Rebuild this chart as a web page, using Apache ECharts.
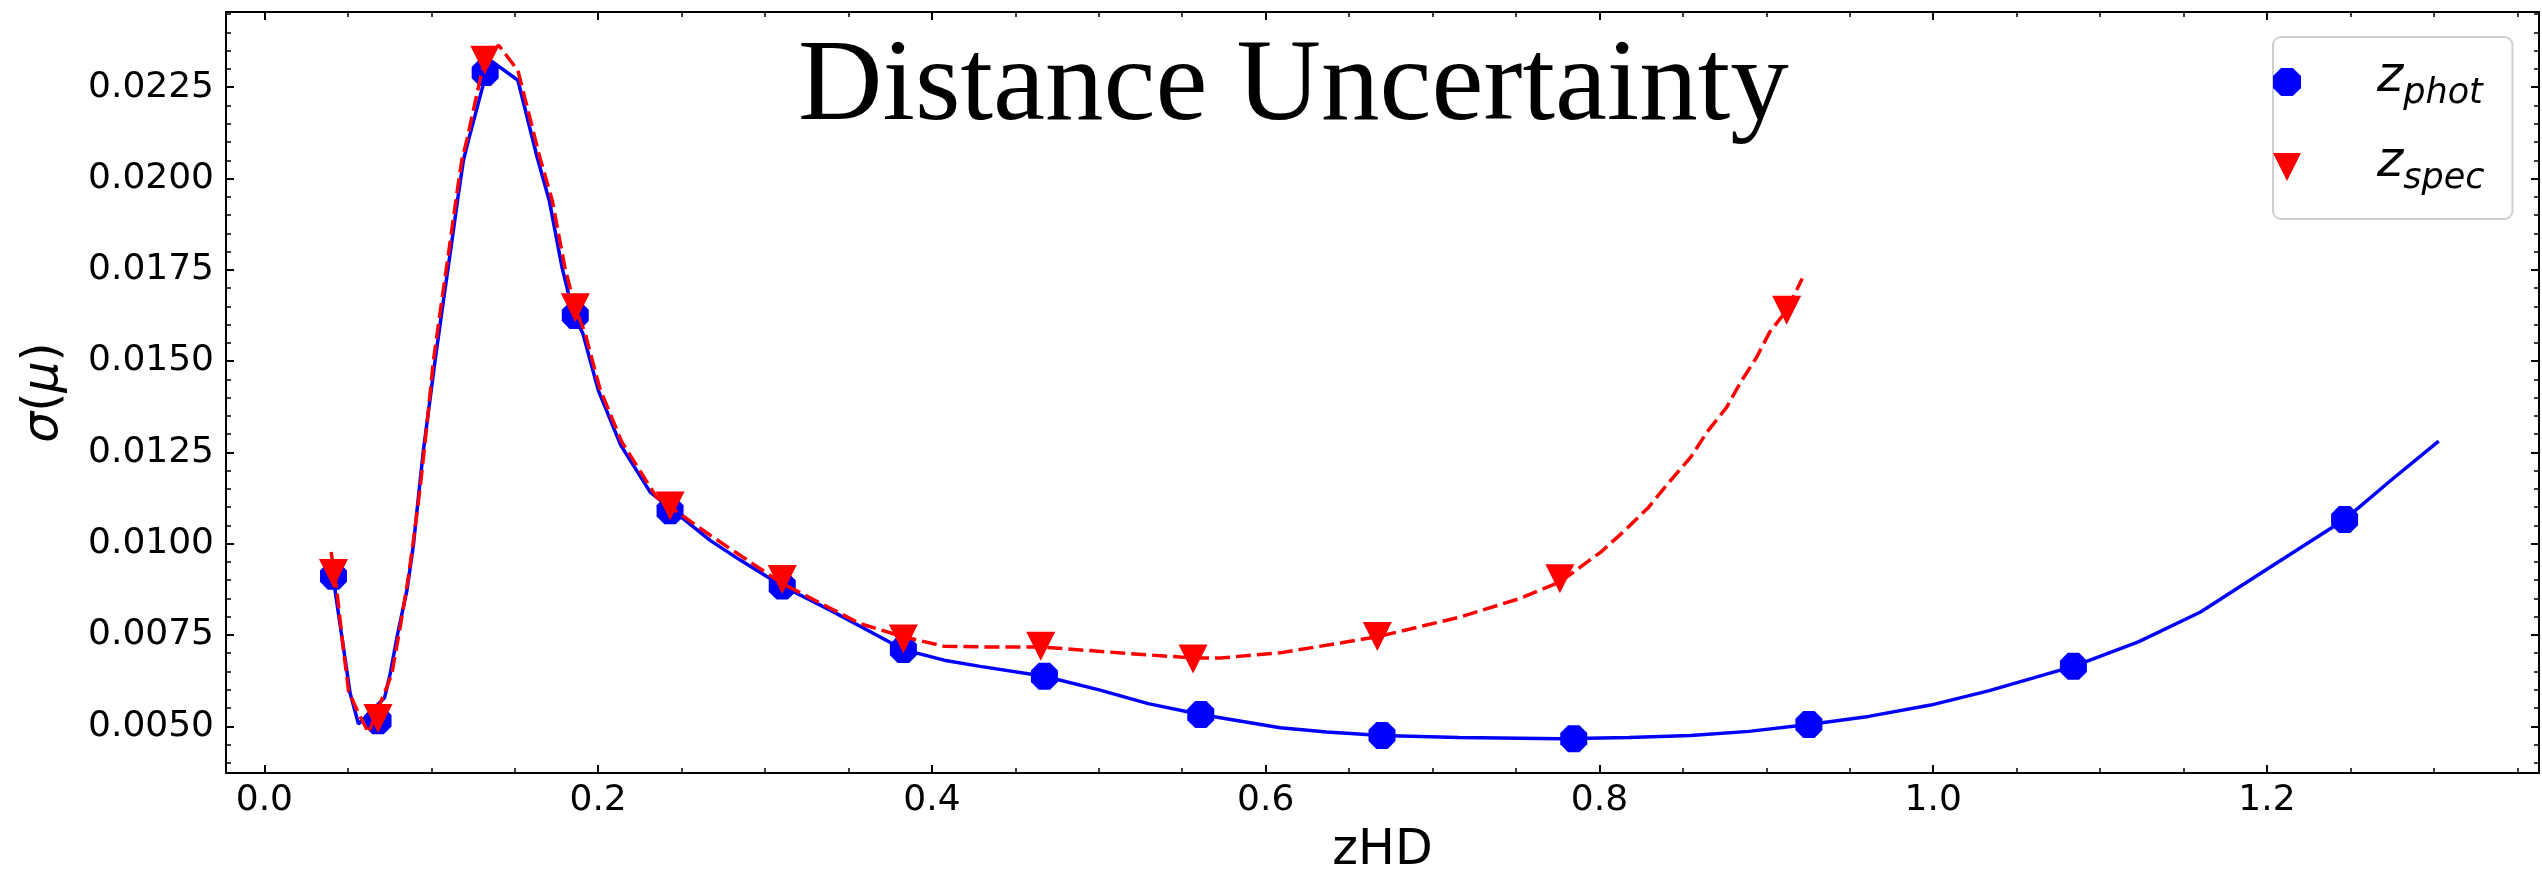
<!DOCTYPE html>
<html><head><meta charset="utf-8">
<script src="https://cdn.jsdelivr.net/npm/echarts@6/dist/echarts.min.js"></script>
<style>html,body{margin:0;padding:0;background:#fff}#c{width:2542px;height:875px}</style>
</head><body><div id="c"></div>
<script>
// ---- data ----
const zphotX = [0.0414,0.0681,0.1323,0.1863,0.2431,0.3103,0.3829,0.4674,0.5611,0.6697,0.7846,0.9255,1.0840,1.2465];
const zphotY = [0.00911,0.00515,0.02290,0.01625,0.01090,0.00884,0.00710,0.00637,0.00532,0.00475,0.00466,0.00505,0.00664,0.01066];
const zspecX = [0.0414,0.0681,0.1321,0.1863,0.2431,0.3103,0.3829,0.4652,0.5565,0.6669,0.7763,0.9122];
const zspecY = [0.00918,0.00521,0.02324,0.01646,0.01103,0.00902,0.00739,0.00719,0.00684,0.00746,0.00904,0.01639];
const photCurveX = [0.0405,0.0514,0.0564,0.0720,0.0754,0.0799,0.0854,0.0894,0.0923,0.0953,0.1023,0.1073,0.1113,0.1163,0.1193,0.1223,0.1324,0.1363,0.1519,0.1634,0.1707,0.1783,0.1851,0.1909,0.2001,0.2135,0.2312,0.2671,0.2851,0.3103,0.3390,0.3606,0.3829,0.4073,0.4289,0.4674,0.5008,0.5296,0.5611,0.6087,0.6366,0.6697,0.7156,0.7768,0.8178,0.8547,0.8895,0.9255,0.9613,0.9985,1.0331,1.0840,1.1229,1.1602,1.1946,1.2465,1.2736,1.3029];
const photCurveY = [0.00930,0.00590,0.00506,0.00578,0.00644,0.00754,0.00872,0.01000,0.01128,0.01256,0.01502,0.01666,0.01794,0.01958,0.02050,0.02105,0.02279,0.02321,0.02269,0.02059,0.01940,0.01758,0.01630,0.01575,0.01420,0.01270,0.01141,0.01009,0.00955,0.00884,0.00818,0.00765,0.00710,0.00681,0.00664,0.00637,0.00599,0.00562,0.00532,0.00496,0.00484,0.00475,0.00469,0.00466,0.00469,0.00475,0.00486,0.00505,0.00527,0.00558,0.00597,0.00664,0.00731,0.00813,0.00914,0.01066,0.01171,0.01281];
const specCurveX = [0.0400,0.0434,0.0474,0.0505,0.0565,0.0624,0.0734,0.0764,0.0814,0.0863,0.0893,0.0934,0.0975,0.1013,0.1063,0.1103,0.1153,0.1183,0.1213,0.1321,0.1404,0.1519,0.1650,0.1725,0.1800,0.1865,0.1920,0.2010,0.2140,0.2349,0.2671,0.3103,0.3570,0.3829,0.4073,0.4361,0.4652,0.5188,0.5565,0.5727,0.6087,0.6669,0.7164,0.7524,0.7763,0.8008,0.8142,0.8295,0.8411,0.8547,0.8645,0.8763,0.8842,0.8942,0.9021,0.9122,0.9215];
const specCurveY = [0.00977,0.00872,0.00708,0.00595,0.00535,0.00482,0.00608,0.00644,0.00772,0.00909,0.01009,0.01155,0.01330,0.01502,0.01666,0.01794,0.01958,0.02050,0.02105,0.02330,0.02365,0.02296,0.02059,0.01940,0.01758,0.01640,0.01580,0.01425,0.01280,0.01128,0.01023,0.00891,0.00781,0.00745,0.00719,0.00717,0.00717,0.00699,0.00687,0.00687,0.00701,0.00745,0.00799,0.00850,0.00895,0.00977,0.01032,0.01100,0.01165,0.01237,0.01306,0.01374,0.01439,0.01511,0.01580,0.01639,0.01726];
const xMajorTicks = [0.0,0.2,0.4,0.6,0.8,1.0,1.2];
const xMinorTicks = [0.05,0.1,0.15,0.25,0.3,0.35,0.45,0.5,0.55,0.65,0.7,0.75,0.85,0.9,0.95,1.05,1.1,1.15,1.25,1.3,1.35];
const yMajorTicks = [0.0050,0.0075,0.0100,0.0125,0.0150,0.0175,0.0200,0.0225];
const yMinorTicks = [0.0040,0.0045,0.0055,0.0060,0.0065,0.0070,0.0080,0.0085,0.0090,0.0095,0.0105,0.0110,0.0115,0.0120,0.0130,0.0135,0.0140,0.0145,0.0155,0.0160,0.0165,0.0170,0.0180,0.0185,0.0190,0.0195,0.0205,0.0210,0.0215,0.0220,0.0230,0.0235,0.0240,0.0245];
const X_MIN = -0.023, X_MAX = 1.363, Y_MIN = 0.00372, Y_MAX = 0.02456;

// ---- chart ----
const FONT = 'DejaVu Sans';
const OCT = 'path://M29 0L71 0L100 29L100 71L71 100L29 100L0 71L0 29Z';
const TRI_DOWN = 'path://M0 0L100 0L50 100Z';
const GRIDBOX = {left:226, top:12, width:2313, height:761, containLabel:false, outerBoundsMode:'none'};
function pairs(xs, ys){ return xs.map((x,i)=>[x, ys[i]]); }
function tickAxis(kind, gridIndex, position, ticks, major, labelFmt, extra){
  const a = {
    gridIndex, type:'value', position,
    min: kind==='x'?X_MIN:Y_MIN, max: kind==='x'?X_MAX:Y_MAX,
    axisLine:{show: major, onZero:false, lineStyle:{color:'#000', width:2}},
    axisTick:{show:true, inside:true, length: major?8:5, customValues: ticks,
      lineStyle:{color:'#000', width: major?2:1.5}},
    axisLabel:{show:false},
    splitLine:{show:false}, minorTick:{show:false}
  };
  if (labelFmt) {
    a.axisLabel = {show:true, customValues: ticks, formatter: labelFmt,
      fontFamily: FONT, fontSize:36, color:'#000', margin: kind==='x'?10:12};
  }
  return Object.assign(a, extra||{});
}
const chart = echarts.init(document.getElementById('c'), null, {renderer:'canvas'});
chart.setOption({
  animation:false,
  backgroundColor:'#ffffff',
  title:{text:'Distance Uncertainty', left:798, top:30, padding:0,
    textStyle:{fontFamily:'Liberation Serif', fontSize:117, fontWeight:'normal', color:'#000'}},
  grid:[Object.assign({}, GRIDBOX), Object.assign({}, GRIDBOX)],
  legend:{
    data:[{name:'zphot', icon:OCT}, {name:'zspec', icon:TRI_DOWN}],
    left:2273, top:37, orient:'vertical', selectedMode:false,
    backgroundColor:'#fff', borderColor:'#cfcfcf', borderWidth:2, borderRadius:8,
    padding:[16,28,23,0], itemGap:27, itemWidth:144, itemHeight:28,
    formatter: n => n==='zphot' ? '{z|z}{s|phot}' : '{z|z}{s|spec}',
    textStyle:{color:'#000', padding:[8,0,0,0],
      rich:{
        z:{fontFamily:FONT, fontStyle:'italic', fontSize:50, lineHeight:50, padding:[0,0,8,13], verticalAlign:'bottom', color:'#000'},
        s:{fontFamily:FONT, fontStyle:'italic', fontSize:35, lineHeight:35, verticalAlign:'bottom', color:'#000'}
      }}
  },
  xAxis:[
    tickAxis('x',0,'bottom',xMajorTicks,true, v=>Number(v).toFixed(1),
      {name:'zHD', nameLocation:'middle', nameGap:54, nameTextStyle:{fontFamily:FONT, fontSize:49, color:'#000'}}),
    tickAxis('x',0,'top',xMajorTicks,true,null),
    tickAxis('x',1,'bottom',xMinorTicks,false,null),
    tickAxis('x',1,'top',xMinorTicks,false,null)
  ],
  yAxis:[
    tickAxis('y',0,'left',yMajorTicks,true, v=>Number(v).toFixed(4),
      {name:'{g|σ}({g|μ})', nameLocation:'middle', nameGap:157, nameRotate:90,
       nameTextStyle:{fontFamily:FONT, fontSize:49, color:'#000',
         rich:{g:{fontFamily:FONT, fontSize:49, fontStyle:'italic', color:'#000'}}}}),
    tickAxis('y',0,'right',yMajorTicks,true,null),
    tickAxis('y',1,'left',yMinorTicks,false,null),
    tickAxis('y',1,'right',yMinorTicks,false,null)
  ],
  series:[
    {name:'zphot curve', type:'line', xAxisIndex:0, yAxisIndex:0, data:pairs(photCurveX, photCurveY),
      showSymbol:false, symbol:'none', lineStyle:{color:'#0000ff', width:3.5}, z:2},
    {name:'zphot', type:'scatter', xAxisIndex:0, yAxisIndex:0, data:pairs(zphotX, zphotY),
      symbol:OCT, symbolSize:27, itemStyle:{color:'#0000ff', opacity:1}, z:3},
    {name:'zspec curve', type:'line', xAxisIndex:0, yAxisIndex:0, data:pairs(specCurveX, specCurveY),
      showSymbol:false, symbol:'none', lineStyle:{color:'#ff0000', width:3.5, type:[15,6]}, z:4},
    {name:'zspec', type:'scatter', xAxisIndex:0, yAxisIndex:0, data:pairs(zspecX, zspecY),
      symbol:TRI_DOWN, symbolSize:29, itemStyle:{color:'#ff0000', opacity:1}, z:5}
  ]
});
</script></body></html>
